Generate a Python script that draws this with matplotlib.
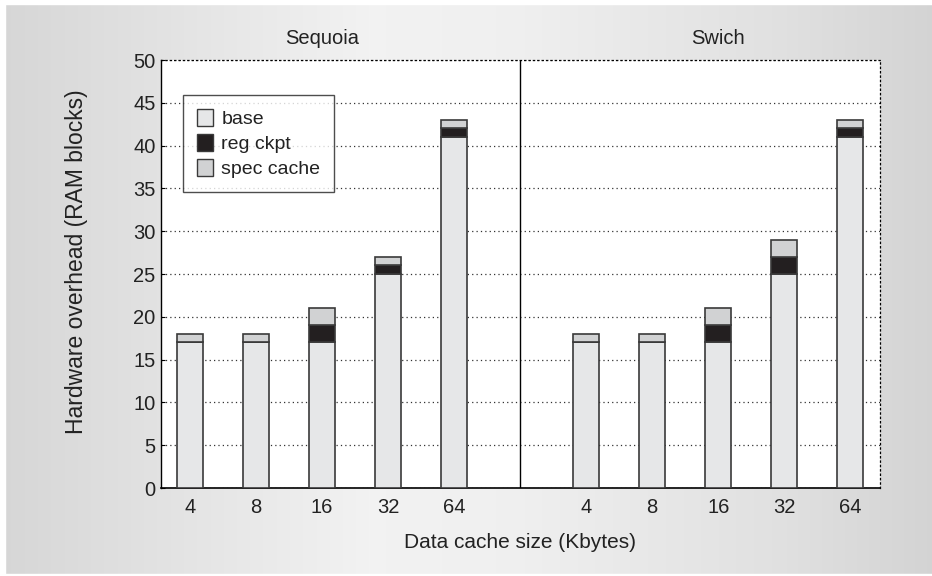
import numpy as np
import matplotlib.pyplot as plt
from matplotlib.patches import Patch

plt.rcParams['font.family'] = ['Liberation Sans', 'DejaVu Sans']

# data
cache_sizes = ['4', '8', '16', '32', '64']
systems = ['Sequoia', 'Swich']
base = {'Sequoia': [17, 17, 17, 25, 41], 'Swich': [17, 17, 17, 25, 41]}
reg_ckpt = {'Sequoia': [0, 0, 2, 1, 1], 'Swich': [0, 0, 2, 2, 1]}
spec_cache = {'Sequoia': [1, 1, 2, 1, 1], 'Swich': [1, 1, 2, 2, 1]}

colors = {'base': '#e6e7e8', 'reg ckpt': '#231f20', 'spec cache': '#d1d2d3'}
edge = '#3a3a3a'

W, H = 932, 576
fig = plt.figure(figsize=(W / 100, H / 100), dpi=100)

# grey gradient background, lightest a bit left of centre
bg = fig.add_axes([0, 0, 1, 1], zorder=-10)
xx = np.linspace(0, 1, 500)
row = np.interp(xx, [0, 0.4, 0.55, 0.84, 1], [0.84, 0.95, 0.94, 0.88, 0.83])
img = np.tile(row, (50, 1))
bg.imshow(np.dstack([img, img, img]), extent=[0, 1, 0, 1], aspect='auto', origin='lower')
bg.axvspan(0, 5 / W, color='white')
bg.axhspan(1 - 4 / H, 1, color='white')
bg.axhspan(0, 2 / H, color='white')
bg.set_xlim(0, 1)
bg.set_ylim(0, 1)
bg.axis('off')

ax = fig.add_axes([161 / W, 1 - 488 / H, (880 - 161) / W, (488 - 60) / H])
ax.set_facecolor('white')

width = 0.4
positions = []
labels = []
for i, sysname in enumerate(systems):
    xs = np.arange(len(cache_sizes)) + i * 6
    b = np.array(base[sysname])
    r = np.array(reg_ckpt[sysname])
    s = np.array(spec_cache[sysname])
    ax.bar(xs, b, width, color=colors['base'], edgecolor=edge, linewidth=1.2, zorder=3)
    ax.bar(xs, r, width, bottom=b, color=colors['reg ckpt'], edgecolor=edge, linewidth=1.2, zorder=3)
    ax.bar(xs, s, width, bottom=b + r, color=colors['spec cache'], edgecolor=edge, linewidth=1.2, zorder=3)
    positions.extend(xs)
    labels.extend(cache_sizes)
    ax.text(xs.mean(), 51.4, sysname, ha='center', va='bottom', fontsize=14.5, color='#222222')

ax.axvline(5, color='black', linewidth=1.0, zorder=4)

ax.set_xlim(-0.44, 10.45)
ax.set_ylim(0, 50)
ax.set_yticks(np.arange(0, 51, 5))
ax.set_xticks(positions)
ax.set_xticklabels(labels)
ax.tick_params(axis='both', labelsize=14.5, labelcolor='#222222', length=0, pad=7)
ax.tick_params(axis='y', length=3, direction='in', pad=4)

ax.yaxis.grid(True, linestyle=(0, (1, 2.5)), color='#333333', linewidth=0.9)
ax.set_axisbelow(True)
for side in ['top', 'right']:
    ax.spines[side].set_linestyle((0, (1, 2.5)))
    ax.spines[side].set_linewidth(0.9)
ax.spines['left'].set_linewidth(1.0)
ax.spines['bottom'].set_linewidth(1.2)

ax.set_ylabel('Hardware overhead (RAM blocks)', fontsize=16.5, color='#222222')
ax.yaxis.set_label_coords(-0.1015, 0.528)
ax.set_xlabel('Data cache size (Kbytes)', fontsize=15, labelpad=12, color='#222222')

handles = [Patch(facecolor=colors[k], edgecolor=edge, label=k) for k in ['base', 'reg ckpt', 'spec cache']]
leg = ax.legend(handles=handles, loc='upper left', bbox_to_anchor=(0.031, 0.918),
                fontsize=14, frameon=True, fancybox=False, edgecolor='#222222',
                handlelength=0.85, handleheight=1.0, handletextpad=0.4,
                borderpad=0.7, labelspacing=0.3, borderaxespad=0)
leg.get_frame().set_linewidth(1.0)
for t in leg.get_texts():
    t.set_color('#222222')

fig.savefig('out.png', dpi=100)
